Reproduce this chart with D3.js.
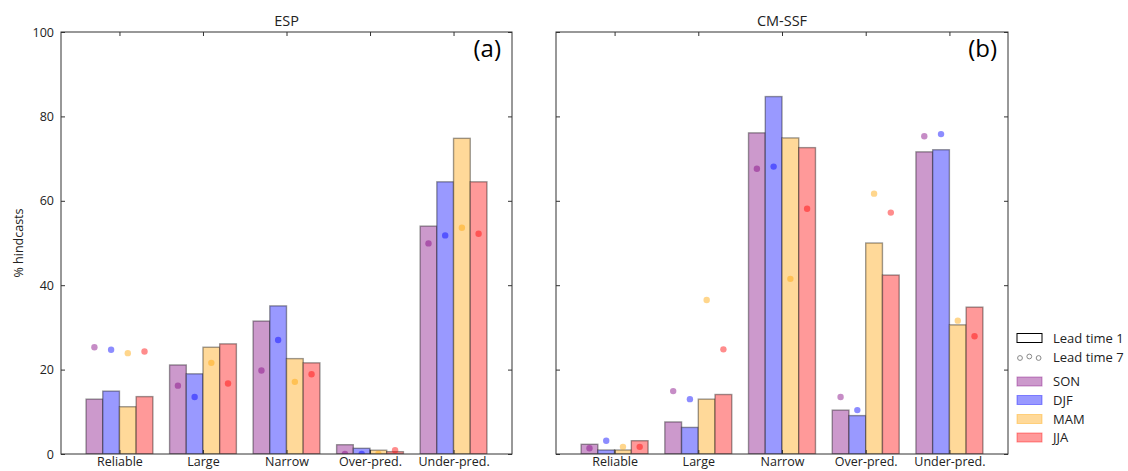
<!DOCTYPE html>
<html>
<head>
<meta charset="utf-8">
<script src="https://cdn.jsdelivr.net/npm/d3@7"></script>
<style>
  body { margin: 0; background: #fff; }
  svg text { font-family: "Open Sans", "DejaVu Sans", sans-serif; fill: #222; }
</style>
</head>
<body>
<div id="chart"></div>
<script>
// categories and seasons
const categories = ["Reliable", "Large", "Narrow", "Over-pred.", "Under-pred."];
const seasons = ["SON", "DJF", "MAM", "JJA"];
const yTicks = [0, 20, 40, 60, 80, 100];

// ESP, lead time 1 (bars), one row per season, one value per category
const espLead1 = [
    [13.0, 21.1, 31.5, 2.2, 54.0],
    [14.9, 19.0, 35.1, 1.35, 64.5],
    [11.2, 25.3, 22.6, 0.9, 74.8],
    [13.6, 26.1, 21.6, 0.55, 64.5]
];
// ESP, lead time 7 (dots)
const espLead7 = [
    [25.3, 16.2, 19.8, 0.0, 49.9],
    [24.7, 13.5, 27.0, 0.0, 51.8],
    [23.9, 21.6, 17.1, 0.0, 53.6],
    [24.3, 16.7, 18.9, 0.9, 52.2]
];
// CM-SSF, lead time 1 (bars)
const ssfLead1 = [
    [2.3, 7.6, 76.1, 10.4, 71.6],
    [0.95, 6.3, 84.7, 9.1, 72.1],
    [0.95, 13.0, 74.9, 50.0, 30.6],
    [3.15, 14.1, 72.6, 42.4, 34.8]
];
// CM-SSF, lead time 7 (dots)
const ssfLead7 = [
    [1.35, 14.9, 67.6, 13.5, 75.3],
    [3.15, 13.0, 68.1, 10.4, 75.8],
    [1.7, 36.5, 41.5, 61.7, 31.6],
    [1.7, 24.8, 58.1, 57.2, 27.9]
];

const barColors = ["#cc99cc", "#9999ff", "#ffd999", "#ff9999"];
const dotColors = ["#800080", "#0000ff", "#ffa500", "#ff0000"];

const W = 1128, H = 471;
const yTop = 32, yBottom = 454;

const svg = d3.select("#chart").append("svg")
    .attr("width", W)
    .attr("height", H);

const y = d3.scaleLinear().domain([0, 100]).range([yBottom, yTop]);

function drawPanel(n, x0, x1, title, tag, bars, dots, showYLabels) {

    const x = d3.scaleLinear().domain([-0.7, 4.7]).range([x0, x1]);
    const bw = x(0.2) - x(0);

    const g = svg.append("g").attr("class", "panel_" + n);

    g.append("clipPath").attr("id", "clip_" + n)
        .append("rect")
            .attr("x", x0).attr("y", yTop)
            .attr("width", x1 - x0).attr("height", yBottom - yTop);

    const plot = g.append("g").attr("clip-path", "url(#clip_" + n + ")");

    // lead time 1 bars
    seasons.forEach((s, si) => {
        plot.selectAll(".bar_" + si)
            .data(bars[si])
            .enter().append("rect")
                .attr("x", (d, i) => x(i + (si - 2) * 0.2))
                .attr("y", d => y(d))
                .attr("width", bw)
                .attr("height", d => y(0) - y(d))
                .style("fill", barColors[si])
                .style("stroke", "#000")
                .style("stroke-opacity", 0.38)
                .style("stroke-width", 1.4);
    });

    // lead time 7 dots
    seasons.forEach((s, si) => {
        plot.selectAll(".dot_" + si)
            .data(dots[si])
            .enter().append("circle")
                .attr("cx", (d, i) => x(i + (si - 1.5) * 0.2))
                .attr("cy", d => y(d))
                .attr("r", 3.2)
                .style("fill", dotColors[si])
                .style("fill-opacity", 0.45)
                .style("stroke", "none");
    });

    // axes, ticks pointing inwards on all four sides
    const axL = d3.axisLeft(y).tickValues(yTicks).tickSizeInner(-4).tickSizeOuter(0).tickPadding(7);
    if (!showYLabels) axL.tickFormat("");
    const axR = d3.axisRight(y).tickValues(yTicks).tickSizeInner(-4).tickSizeOuter(0).tickFormat("");
    const axT = d3.axisTop(x).tickValues([0, 1, 2, 3, 4]).tickSizeInner(-4).tickSizeOuter(0).tickFormat("");
    const axB = d3.axisBottom(x).tickValues([0, 1, 2, 3, 4]).tickSizeInner(-4).tickSizeOuter(0)
        .tickPadding(6).tickFormat(i => categories[i]);

    const gl = g.append("g").attr("transform", "translate(" + x0 + ",0)").call(axL);
    const gr = g.append("g").attr("transform", "translate(" + x1 + ",0)").call(axR);
    const gt = g.append("g").attr("transform", "translate(0," + yTop + ")").call(axT);
    const gb = g.append("g").attr("transform", "translate(0," + yBottom + ")").call(axB);

    [gl, gr, gt, gb].forEach(a => {
        a.select(".domain").remove();
        a.selectAll(".tick line").style("stroke", "#333");
        a.selectAll(".tick text")
            .style("font-family", '"Open Sans", "DejaVu Sans", sans-serif')
            .style("font-size", "12.5px")
            .style("fill", "#222");
    });
    gb.selectAll(".tick text").attr("dy", "0.5em");

    // frame
    g.append("rect")
        .attr("x", x0).attr("y", yTop)
        .attr("width", x1 - x0).attr("height", yBottom - yTop)
        .style("fill", "none")
        .style("stroke", "#333")
        .style("stroke-width", 1);

    g.append("text")
        .attr("x", (x0 + x1) / 2)
        .attr("y", 26)
        .attr("text-anchor", "middle")
        .style("font-size", "14.5px")
        .text(title);

    g.append("text")
        .attr("x", x1 - 11)
        .attr("y", 57)
        .attr("text-anchor", "end")
        .style("font-size", "24px")
        .style("fill", "#000")
        .text(tag);
}

drawPanel(0, 61, 512, "ESP", "(a)", espLead1, espLead7, true);
drawPanel(1, 556, 1008, "CM-SSF", "(b)", ssfLead1, ssfLead7, false);

// y label
svg.append("text")
    .attr("transform", "translate(23," + ((yTop + yBottom) / 2) + ") rotate(-90)")
    .attr("text-anchor", "middle")
    .style("font-size", "12.5px")
    .text("% hindcasts");

// legend
const lg = svg.append("g").attr("class", "legend");
const lx = 1017, tx = 1053;

lg.append("rect")
    .attr("x", lx).attr("y", 338 - 4.5)
    .attr("width", 25).attr("height", 9)
    .style("fill", "#fff").style("stroke", "#000").style("stroke-width", 1);
lg.append("text").attr("x", tx).attr("y", 338).attr("dy", "0.35em")
    .style("font-size", "13px").text("Lead time 1");

lg.selectAll(".legdot")
    .data([0, 1, 2])
    .enter().append("circle")
        .attr("cx", d => lx + 3 + d * 9.3)
        .attr("cy", d => d == 1 ? 356.5 : 358)
        .attr("r", 2.4)
        .style("fill", "none")
        .style("stroke", "#888")
        .style("stroke-width", 1);
lg.append("text").attr("x", tx).attr("y", 357).attr("dy", "0.35em")
    .style("font-size", "13px").text("Lead time 7");

const legY = [381.5, 400, 419, 437.5];
seasons.forEach((s, si) => {
    lg.append("rect")
        .attr("x", lx).attr("y", legY[si] - 4.5)
        .attr("width", 25).attr("height", 9)
        .style("fill", barColors[si])
        .style("stroke", dotColors[si])
        .style("stroke-opacity", 0.4)
        .style("stroke-width", 1);
    lg.append("text").attr("x", tx).attr("y", legY[si]).attr("dy", "0.35em")
        .style("font-size", "13px").text(s);
});
</script>
</body>
</html>
